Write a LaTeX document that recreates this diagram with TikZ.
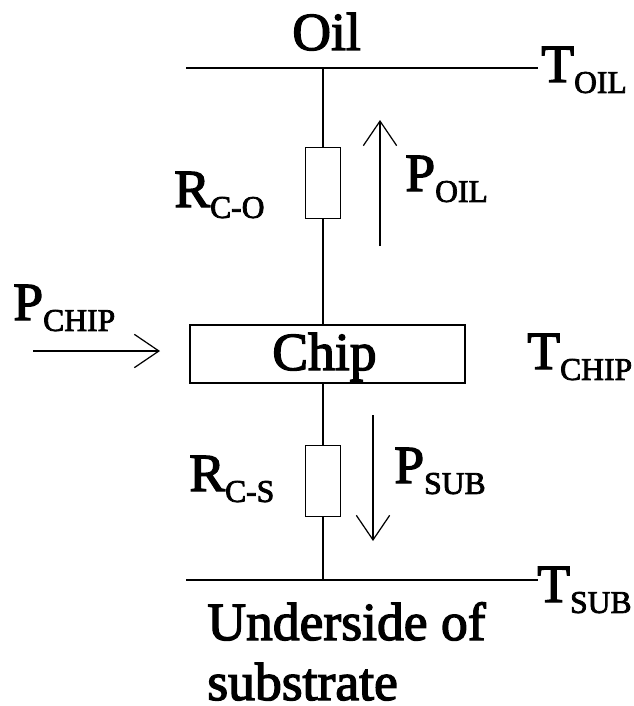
\documentclass[tikz,border=0pt]{standalone}
\usepackage{fontspec}
\setmainfont{Liberation Serif}
\newfontfamily\heavy{Liberation Serif}[FakeBold=2.5]
\usetikzlibrary{arrows.meta}
\newdimen\pxu \pxu=0.02cm
\newcommand{\lbl}[2]{#1\raisebox{-6.2pt}{\fontsize{18}{20}\selectfont #2}}
\tikzset{
  wire/.style={draw=black,line width=0.8pt},
  flow/.style={draw=black,line width=0.7pt,-{Straight Barb[length=14pt,width=19pt,line width=0.7pt]}},
  resistor/.style={wire,fill=white,minimum width=35\pxu,minimum height=71\pxu,inner sep=0pt},
  txt/.style={font=\heavy\fontsize{30.5}{34}\selectfont,inner sep=0pt,anchor=base west}
}
\begin{document}
\begin{tikzpicture}[x=0.02cm,y=-0.02cm]
  \useasboundingbox (0,0) rectangle (633,706);
  % rails
  \coordinate (oilL) at (186,68);
  \coordinate (oilR) at (538,68);
  \coordinate (oilT) at (323,68);
  \coordinate (subL) at (186,580);
  \coordinate (subR) at (538,580);
  \coordinate (subT) at (323,580);
  \node[wire,minimum width=275\pxu,minimum height=58\pxu,inner sep=0pt] (chip) at (327.5,354) {};
  \node[txt] (chiptxt) at (272,370) {Chip};
  \coordinate (chipN) at (323,325);
  \coordinate (chipS) at (323,383);
  \node[resistor] (rtop) at (323,183) {};
  \node[resistor] (rbot) at (323,481) {};
  \draw[wire] (oilL) -- (oilR);
  \draw[wire] (subL) -- (subR);
  \draw[wire] (oilT) -- (rtop.north);
  \draw[wire] (rtop.south) -- (chipN);
  \draw[wire] (chipS) -- (rbot.north);
  \draw[wire] (rbot.south) -- (subT);
  % heat flows
  \coordinate (poilS) at (380,246);
  \coordinate (poilE) at (380,120);
  \coordinate (psubS) at (373,415);
  \coordinate (psubE) at (373,541);
  \coordinate (pchipS) at (33,351);
  \coordinate (pchipE) at (160,351);
  \draw[flow] (poilS) -- (poilE);
  \draw[flow] (psubS) -- (psubE);
  \draw[flow] (pchipS) -- (pchipE);
  % labels
  \node[txt] (oil) at (292,50) {Oil};
  \node[txt] (toil) at (541,82) {\lbl{T}{OIL}};
  \node[txt] (rco) at (174,207) {\lbl{R}{C-O}};
  \node[txt] (poil) at (405,191) {\lbl{P}{OIL}};
  \node[txt] (pchip) at (13,320) {\lbl{P}{CHIP}};
  \node[txt] (tchip) at (527,369) {\lbl{T}{CHIP}};
  \node[txt] (rcs) at (189,491) {\lbl{R}{C-S}};
  \node[txt] (psub) at (394,483) {\lbl{P}{SUB}};
  \node[txt] (tsub) at (537,602) {\lbl{T}{SUB}};
  \node[txt] (under) at (207,640) {Underside of};
  \node[txt] (subs) at (207,700) {substrate};
\end{tikzpicture}
\end{document}
